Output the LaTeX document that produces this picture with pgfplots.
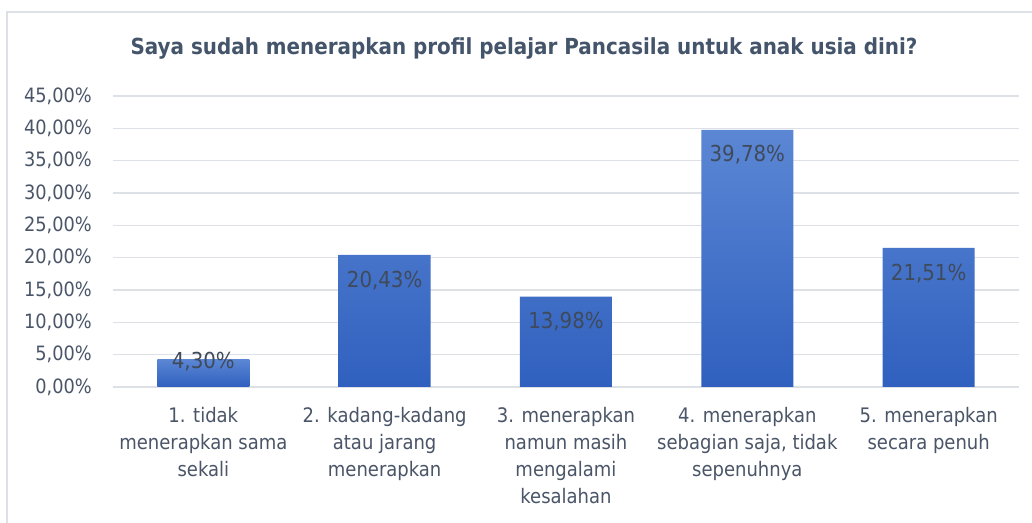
\documentclass[border=0pt]{standalone}
\usepackage{pgfplots}
\pgfplotsset{compat=1.18}
\usepackage{fontspec}
\setmainfont{DejaVu Sans Condensed}
\definecolor{titlec}{HTML}{44546A}
\definecolor{labc}{HTML}{4A5568}
\definecolor{datc}{HTML}{3F4A5A}
\definecolor{gridc}{HTML}{DDE0E5}
\definecolor{bartop}{HTML}{5B87D4}
\definecolor{barbot}{HTML}{3060BF}
\begin{document}
\begin{tikzpicture}
\useasboundingbox (0,0) rectangle (774pt,-392.25pt);
\fill[white] (0,0) rectangle (774pt,-392.25pt);
\draw[gridc, line width=1.2pt] (774pt,-9pt) -- (5.25pt,-9pt) -- (5.25pt,-392.25pt);
\node[font=\fontsize{16.6}{20}\selectfont\bfseries, text=titlec] at (393pt,-36pt) {Saya sudah menerapkan profil pelajar Pancasila untuk anak usia dini?};
\begin{axis}[
  at={(84.5pt,-290.25pt)}, anchor=south west,
  scale only axis, width=680pt, height=218.25pt,
  xmin=-0.5, xmax=4.5, ymin=0, ymax=45,
  axis line style={draw=none},
  axis x line*=bottom,
  ymajorgrids, grid style={gridc, line width=1.1pt},
  major tick length=0pt,
  ytick={0,5,...,45},
  yticklabels={{0,00\%},{5,00\%},{10,00\%},{15,00\%},{20,00\%},{25,00\%},{30,00\%},{35,00\%},{40,00\%},{45,00\%}},
  y tick label style={font=\fontsize{14.8}{17}\selectfont, text=labc, inner sep=0pt, anchor=east, xshift=-15.5pt},
  xtick={0,1,2,3,4},
  xticklabels={{1. tidak\\menerapkan sama\\sekali},{2. kadang-kadang\\atau jarang\\menerapkan},{3. menerapkan\\namun masih\\mengalami\\kesalahan},{4. menerapkan\\sebagian saja, tidak\\sepenuhnya},{5. menerapkan\\secara penuh}},
  x tick label style={font=\fontsize{15}{20.25}\selectfont, text=labc, align=center, anchor=north, inner sep=0pt, yshift=-15pt},
  clip=false,
]
\draw[gridc, line width=1.1pt] (axis cs:-0.5,0) -- (axis cs:4.5,0);
\addplot[ybar, bar width=69pt, bar shift=0pt, draw=none, top color=bartop, bottom color=barbot,
  point meta=explicit symbolic, nodes near coords,
  every node near coord/.append style={font=\fontsize{16.5}{19}\selectfont, text=datc, anchor=center, yshift=-19pt}]
  table[meta=lab] {
x y lab
1 20.43 {20,43\%}
2 13.98 {13,98\%}
3 39.78 {39,78\%}
4 21.51 {21,51\%}
};
\addplot[ybar, bar width=69pt, bar shift=0pt, draw=none, top color=bartop, bottom color=barbot,
  point meta=explicit symbolic, nodes near coords,
  every node near coord/.append style={font=\fontsize{16.5}{19}\selectfont, text=datc, anchor=center, yshift=-2pt}]
  table[meta=lab] {
x y lab
0 4.30 {4,30\%}
};
\end{axis}
\end{tikzpicture}
\end{document}
